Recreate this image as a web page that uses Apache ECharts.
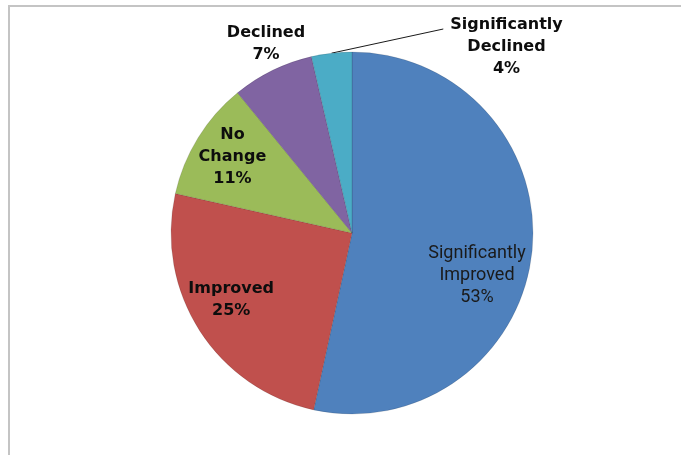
<!DOCTYPE html>
<html><head><meta charset="utf-8">
<script src="https://cdn.jsdelivr.net/npm/echarts@6/dist/echarts.min.js"></script>
<style>html,body{margin:0;padding:0;background:#fff}#c{width:681px;height:455px}</style>
</head><body><div id="c"></div>
<script>
// Data
const categories = ['Significantly Improved', 'Improved', 'No Change', 'Declined', 'Significantly Declined'];
const values = [53.4, 25.1, 10.6, 7.3, 3.6];

// Style
const colors = ['#4F81BD', '#C0504D', '#9BBB59', '#8064A2', '#4BACC6'];
const innerShift = {0: [32, 33], 1: [-42, 16], 2: [-40, -27]};
const outerPos = {3: [266, 44], 4: [506.5, 47]};

const chart = echarts.init(document.getElementById('c'), null, {renderer: 'canvas'});

const data = categories.map((n, i) => {
  const item = {name: n, value: values[i], itemStyle: {color: colors[i]}};
  if (i === 0) {
    item.label = {fontFamily: 'Roboto', fontWeight: 'normal', fontSize: 18, color: '#1a1a1a', lineHeight: 22};
  }
  if (i >= 3) {
    item.label = {position: 'outside'};
    item.labelLine = {show: i === 4, length: 5, length2: 5, smooth: false, lineStyle: {color: '#1a1a1a', width: 1}};
  }
  return item;
});

chart.setOption({
  animation: false,
  backgroundColor: '#ffffff',
  graphic: [{
    type: 'polyline', silent: true,
    shape: {points: [[9, 455], [9, 6], [681, 6]]},
    style: {stroke: '#c4c4c4', lineWidth: 2, fill: null}
  }],
  series: [{
    type: 'pie',
    center: [352, 233],
    radius: 181,
    startAngle: 90,
    clockwise: true,
    avoidLabelOverlap: false,
    emphasis: {disabled: true},
    itemStyle: {borderColor: 'rgba(0,0,0,0.12)', borderWidth: 1},
    label: {
      show: true,
      position: 'inside',
      fontFamily: 'DejaVu Sans',
      fontWeight: 'bold',
      fontSize: 16,
      lineHeight: 22,
      color: '#0d0d0d',
      formatter: p => p.name.replace(' ', '\n') + '\n' + Math.round(p.percent) + '%'
    },
    labelLine: {show: false},
    labelLayout: function (p) {
      const i = p.dataIndex;
      if (innerShift[i]) return {dx: innerShift[i][0], dy: innerShift[i][1]};
      const pos = outerPos[i];
      const r = p.labelRect;
      const out = {x: pos[0], y: pos[1], align: 'center', verticalAlign: 'middle'};
      if (i === 4 && p.labelLinePoints) {
        out.labelLinePoints = [p.labelLinePoints[0], [pos[0] - r.width / 2 - 7, pos[1] - r.height / 2 + 15]];
      }
      return out;
    },
    data: data
  }]
});
</script>
</body></html>
